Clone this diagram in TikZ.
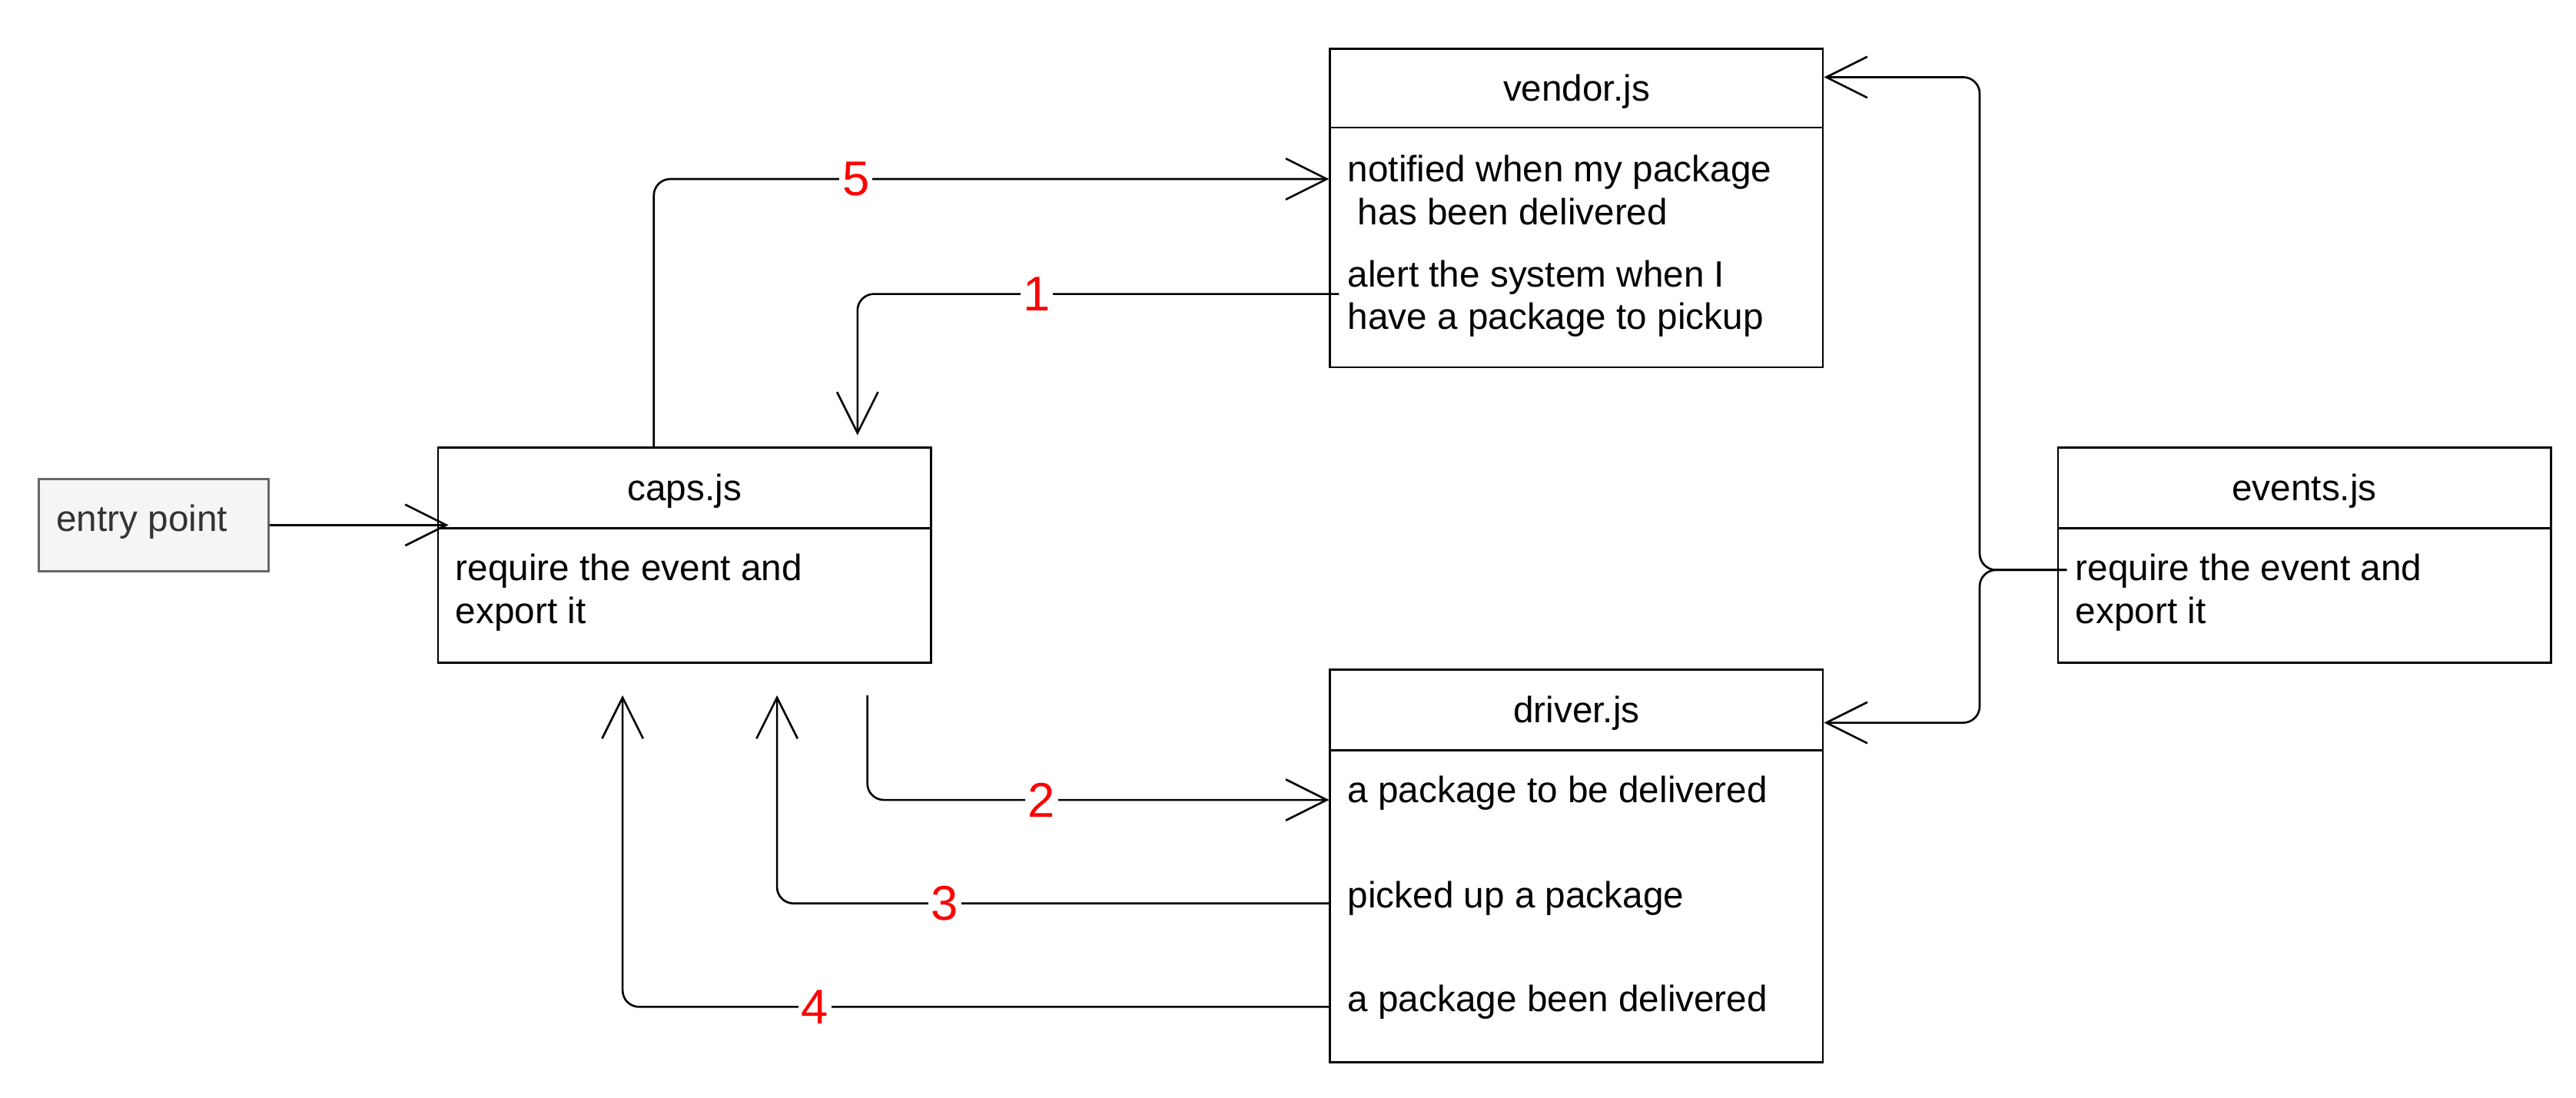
\documentclass[tikz,border=0pt]{standalone}
\usepackage{fontspec}
\setmainfont{Liberation Sans}
\usetikzlibrary{arrows.meta}
\definecolor{numred}{HTML}{FF0000}
\definecolor{entryfill}{HTML}{F5F5F5}
\definecolor{entrydraw}{HTML}{666666}
\definecolor{entrytext}{HTML}{333333}
\begin{document}
\begin{tikzpicture}[x=0.02cm,y=-0.02cm,
  box/.style={draw=black, line width=0.75pt, minimum width=6cm, inner sep=0pt, anchor=north west, fill=white},
  hdrtxt/.style={inner sep=0pt, anchor=center, font=\fontsize{12.7}{15}\selectfont},
  txt/.style={anchor=mid west, inner sep=0pt, font=\fontsize{12.7}{15}\selectfont},
  conn/.style={line width=0.7pt, rounded corners=0.2cm, -{Straight Barb[length=0.5cm,width=0.5cm]}},
  num/.style={text=numred, fill=white, inner sep=1pt, font=\fontsize{16.9}{18}\selectfont}
]
\useasboundingbox (0,0) rectangle (1568,668);

% entry point
\node[draw=entrydraw, fill=entryfill, line width=0.75pt, minimum width=2.8cm, minimum height=1.12cm, inner sep=0pt, anchor=north west] (entry) at (23,291) {};
\node[txt, text=entrytext] (entryT) at (34,319) {entry point};

% caps.js
\node[box, minimum height=0.98cm] (capsH) at (266,272) {};
\node[box, minimum height=1.64cm] (capsB) at (266,321) {};
\node[hdrtxt] (capsL) at ([yshift=-0.04cm]capsH.center) {caps.js};
\node[txt] (capsT1) at (277,349) {require the event and};
\node[txt] (capsT2) at (277,375) {export it};

% vendor.js
\node[box, minimum height=0.96cm] (vendorH) at (809,29) {};
\node[box, minimum height=2.92cm] (vendorB) at (809,77) {};
\node[hdrtxt] (vendorL) at ([yshift=-0.04cm]vendorH.center) {vendor.js};
\node[txt] (vendorT1) at (820,106) {notified when my package};
\node[txt] (vendorT2) at (820,132) {\ has been delivered};
\node[txt] (vendorT3) at (820,170) {alert the system when I};
\node[txt] (vendorT4) at (820,196) {have a package to pickup};

% driver.js
\node[box, minimum height=0.98cm] (driverH) at (809,407) {};
\node[box, minimum height=3.8cm] (driverB) at (809,456) {};
\node[hdrtxt] (driverL) at ([yshift=-0.04cm]driverH.center) {driver.js};
\node[txt] (driverT1) at (820,484) {a package to be delivered};
\node[txt] (driverT2) at (820,548) {picked up a package};
\node[txt] (driverT3) at (820,611) {a package been delivered};

% events.js
\node[box, minimum height=0.98cm] (eventsH) at (1252,272) {};
\node[box, minimum height=1.64cm] (eventsB) at (1252,321) {};
\node[hdrtxt] (eventsL) at ([yshift=-0.04cm]eventsH.center) {events.js};
\node[txt] (eventsT1) at (1263,349) {require the event and};
\node[txt] (eventsT2) at (1263,375) {export it};

% connectors
\draw[conn] (entry.east) -- ([xshift=0.14cm]entry.east -| capsH.west);

\draw[conn] ([xshift=2.64cm]capsH.north west) |- ([yshift=-0.64cm]vendorB.north west);
\node[num] (n5) at (521,109) {5};

\draw[conn] ([shift={(0.12cm,-2.04cm)}]vendorB.north west) -| ([shift={(5.12cm,0.14cm)}]capsH.north west);
\node[num] (n1) at (631,179) {1};

\draw[conn] ([shift={(5.24cm,-0.38cm)}]capsB.south west) |- ([yshift=-0.62cm]driverB.north west);
\node[num] (n2) at (634,487) {2};

\draw[conn] ([yshift=-1.88cm]driverB.north west) -| ([shift={(4.14cm,-0.38cm)}]capsB.south west);
\node[num] (n3) at (575,550) {3};

\draw[conn] ([yshift=-3.14cm]driverB.north west) -| ([shift={(2.26cm,-0.38cm)}]capsB.south west);
\node[num] (n4) at (496,613) {4};

\coordinate (evstart) at ([shift={(0.12cm,-0.52cm)}]eventsB.north west);
\coordinate (split) at ([shift={(-0.94cm,-0.52cm)}]eventsB.north west);
\draw[conn] (evstart) -- (split) |- ([yshift=-0.36cm]vendorH.north east);
\draw[conn] (evstart) -- (split) |- ([yshift=-0.66cm]driverH.north east);
\end{tikzpicture}
\end{document}
